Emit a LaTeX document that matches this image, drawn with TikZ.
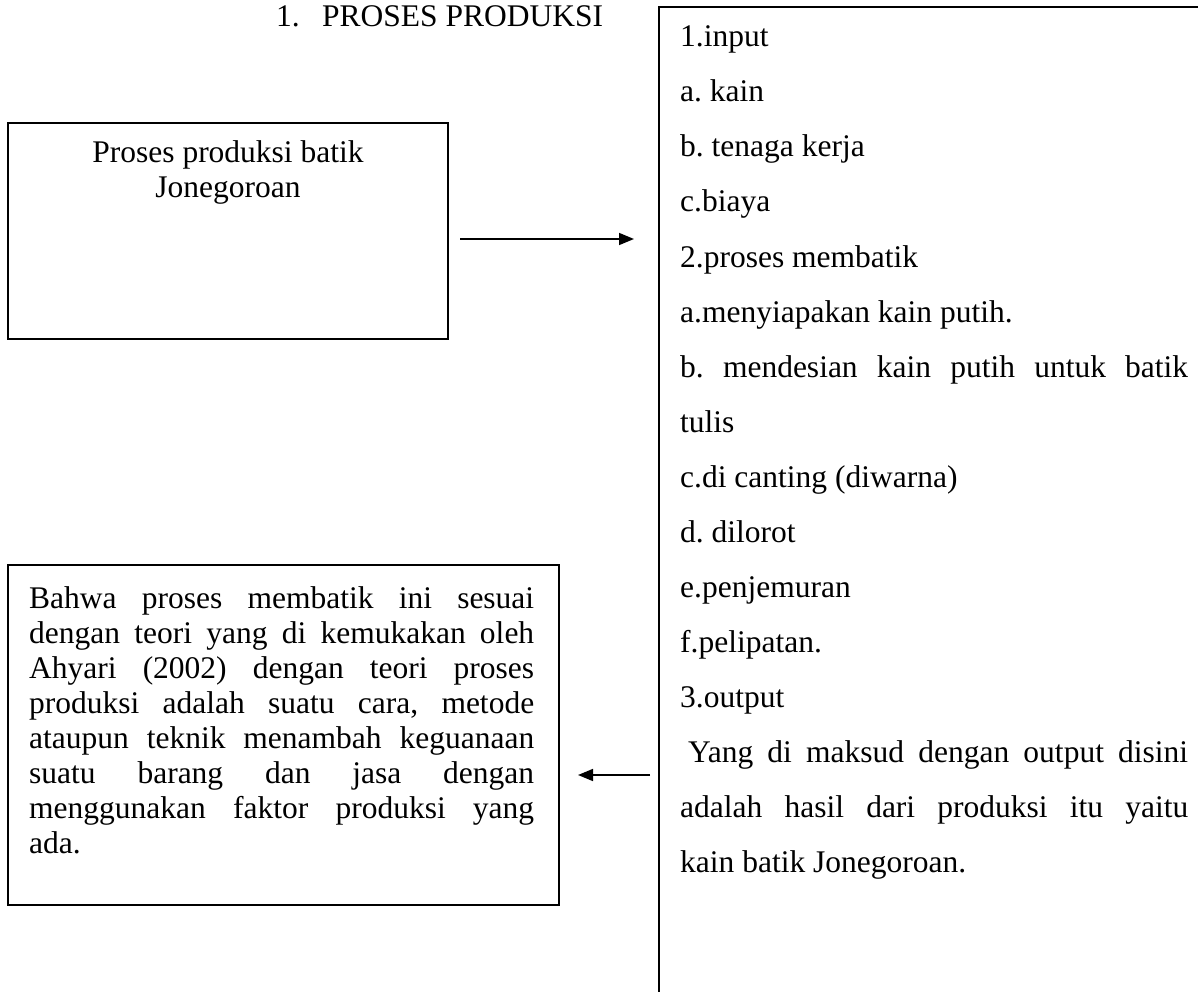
\documentclass[tikz,border=0pt]{standalone}
\usepackage{fontspec}
\setmainfont{Liberation Serif}
\usepackage{tikz}
\usetikzlibrary{arrows.meta,positioning}

% justified line of a given width
\newcommand{\jl}[2][505pt]{\makebox[#1][s]{#2}}

\begin{document}
\frenchspacing
\begin{tikzpicture}[x=1pt,y=-1pt,
  font=\fontsize{31.5pt}{35pt}\selectfont,
  box/.style={draw,line width=1.8pt,inner sep=0pt,outer sep=0pt},
  txt/.style={anchor=base west,inner sep=0pt},
  arr/.style={line width=1.6pt,-{Triangle[length=15pt,width=12pt]}}]
  \clip (0,0) rectangle (1198,992);

  % title
  \node[txt] (num) at (276,27) {1.};
  \node[txt] (title) at (322,27) {PROSES PRODUKSI};

  % left boxes
  \node[box,anchor=north west,minimum width=440pt,minimum height=216pt] (prosesbox) at (8,123) {};
  \node[anchor=base,inner sep=0pt] (proses1) at (228,163) {Proses produksi batik};
  \node[anchor=base,inner sep=0pt] (proses2) at (228,198) {Jonegoroan};

  \node[box,anchor=north west,minimum width=551pt,minimum height=340pt] (teoribox) at (8,565) {};
  \foreach \t [count=\i from 0] in {
      {\jl{Bahwa proses membatik ini sesuai}},
      {\jl{dengan teori yang di kemukakan oleh}},
      {\jl{Ahyari (2002) dengan teori proses}},
      {\jl{produksi adalah suatu cara, metode}},
      {\jl{ataupun teknik menambah keguanaan}},
      {\jl{suatu barang dan jasa dengan}},
      {\jl{menggunakan faktor produksi yang}},
      {ada.}}
    \node[txt] (teori\i) at (29,608+35*\i) {\t};

  % right box
  \node[box,anchor=north west,minimum width=700pt,minimum height=1100pt] (listbox) at (659,7) {};
  \foreach \t [count=\i from 0] in {
      {1.input},
      {a. kain},
      {b. tenaga kerja},
      {c.biaya},
      {2.proses membatik},
      {a.menyiapakan kain putih.},
      {\jl[508pt]{b. mendesian kain putih untuk batik}},
      {tulis},
      {c.di canting (diwarna)},
      {d. dilorot},
      {e.penjemuran},
      {f.pelipatan.},
      {3.output},
      {\jl[508pt]{\hspace*{8pt}Yang di maksud dengan output disini}},
      {\jl[508pt]{adalah hasil dari produksi itu yaitu}},
      {kain batik Jonegoroan.}}
    \node[txt] (item\i) at (680,47+55*\i) {\t};

  % arrows
  \coordinate (toprow) at (0,239);
  \coordinate (botrow) at (0,775);
  \draw[arr,shorten <=12pt,shorten >=25pt] (prosesbox.east |- toprow) -- (listbox.west |- toprow);
  \draw[arr,shorten <=9pt,shorten >=19pt] (listbox.west |- botrow) -- (teoribox.east |- botrow);
\end{tikzpicture}
\end{document}
